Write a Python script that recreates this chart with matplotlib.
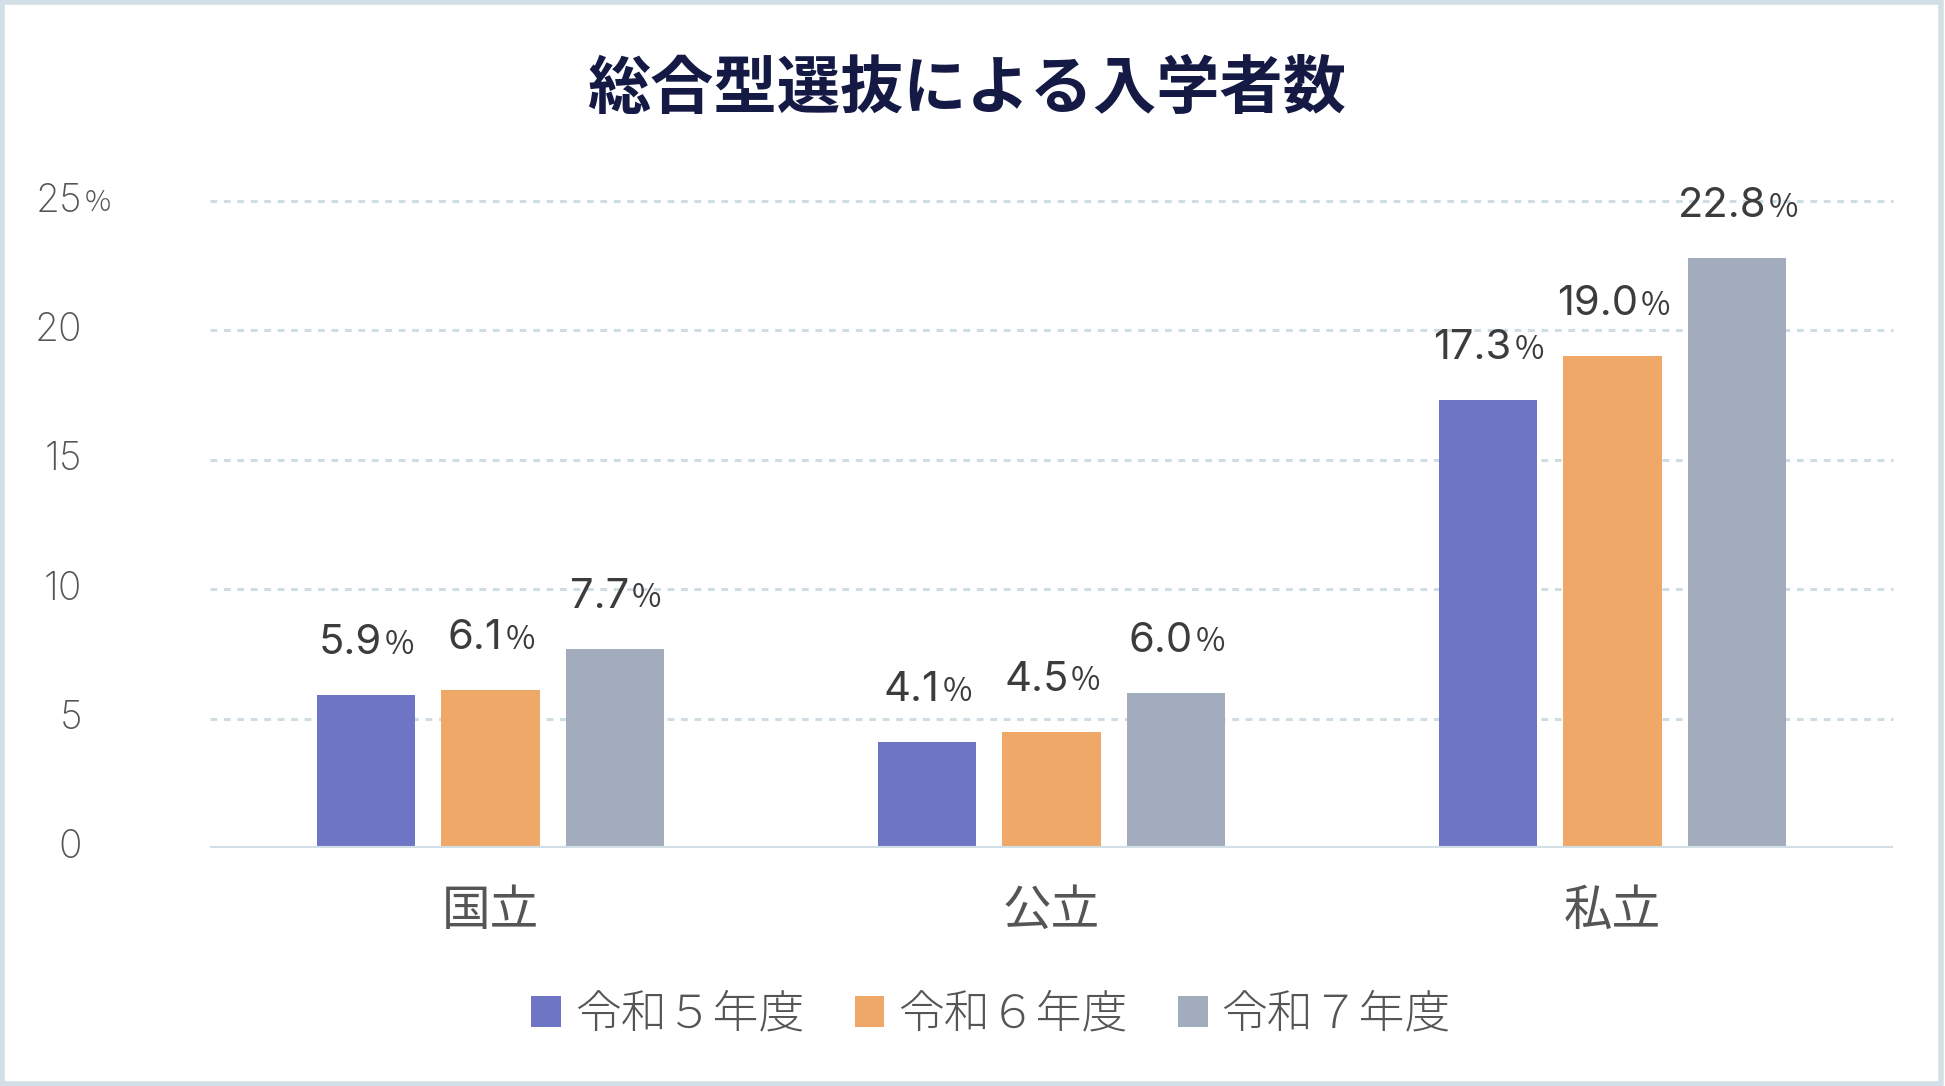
import matplotlib
matplotlib.use("Agg")
import matplotlib.pyplot as plt
import matplotlib.transforms as mtransforms
from matplotlib.patches import Patch, Rectangle
import numpy as np

plt.rcParams["font.family"] = ["Noto Sans CJK JP", "DejaVu Sans"]
NUM_FONT = ["Inter", "Noto Sans CJK JP", "DejaVu Sans"]

# data
categories = ["国立", "公立", "私立"]
series_names = ["令和５年度", "令和６年度", "令和７年度"]
r5 = [5.9, 4.1, 17.3]
r6 = [6.1, 4.5, 19.0]
r7 = [7.7, 6.0, 22.8]
yticks = [0, 5, 10, 15, 20, 25]

colors = ["#6e75c4", "#efa868", "#a3acbc"]
grid_color = "#cfdce4"
text_gray = "#555555"
label_dark = "#3c3c3c"

fig = plt.figure(figsize=(19.45, 10.86), dpi=100)
ax = fig.add_axes([210 / 1945, 1 - 848 / 1086, 1683 / 1945, 647 / 1086])

x = np.arange(len(categories))
width = 0.175
step = 0.222
for i, (vals, color) in enumerate(zip([r5, r6, r7], colors)):
    bars = ax.bar(x + (i - 1) * step, vals, width, color=color, zorder=3)
    for rect, v in zip(bars, vals):
        cx = rect.get_x() + rect.get_width() / 2
        num = ax.annotate(f"{v:.1f}", xy=(cx, v), xytext=(-11, 29.5),
                          textcoords="offset points", ha="center", va="baseline",
                          fontsize=30, color=label_dark, zorder=5, family=NUM_FONT)
        ax.annotate("%", xy=(1, 0), xycoords=num, xytext=(2, 1),
                    textcoords="offset points", ha="left", va="bottom",
                    fontsize=23, color=label_dark, zorder=5)

ax.set_xlim(-0.5, 2.5)
ax.set_ylim(0, 25)

# grid
for y in yticks[1:]:
    ax.axhline(y, color=grid_color, lw=2.2, ls=(0, (2.2, 2.2)), zorder=1, clip_on=False)
ax.axhline(0, color="#d3dfe6", lw=3, zorder=4)

for s in ax.spines.values():
    s.set_visible(False)
ax.set_xticks([])
ax.set_yticks([])

# y tick labels
trans = mtransforms.blended_transform_factory(ax.transAxes, ax.transData)
xl = (82 - 210) / 1683
for y in yticks:
    t = ax.text(xl, y, str(y), transform=trans, ha="right", va="center",
                fontsize=28, color=text_gray, fontweight="light", family=NUM_FONT)
    if y == 25:
        ax.annotate("%", xy=(1, 0), xycoords=t, xytext=(2, 1),
                    textcoords="offset points", ha="left", va="bottom",
                    fontsize=21, color=text_gray, fontweight="light")

# category labels
trans_c = mtransforms.blended_transform_factory(ax.transData, ax.transAxes)
for xi, c in zip(x, categories):
    ax.text(xi, (848 - 911) / 647, c, transform=trans_c, ha="center", va="center",
            fontsize=35, color=text_gray, fontweight="regular")

fig.text(0.497, 1 - 90 / 1086, "総合型選抜による入学者数", ha="center", va="center",
         fontsize=45.5, fontweight="bold", color="#151a45")

handles = [Patch(facecolor=c, edgecolor="none") for c in colors]
fig.legend(handles, series_names, loc="center", bbox_to_anchor=(991 / 1945, 1 - 1015 / 1086),
           ncol=3, frameon=False, handlelength=0.65, handleheight=0.65,
           handletextpad=0.3, columnspacing=1.1, labelcolor=text_gray,
           prop={"weight": "light", "size": 33})

fig.patches.append(Rectangle((0.001, 0.002), 0.997, 0.996, transform=fig.transFigure,
                             fill=False, edgecolor="#d3dfe6", lw=4))

fig.savefig("out.png", dpi=100, facecolor="white")
